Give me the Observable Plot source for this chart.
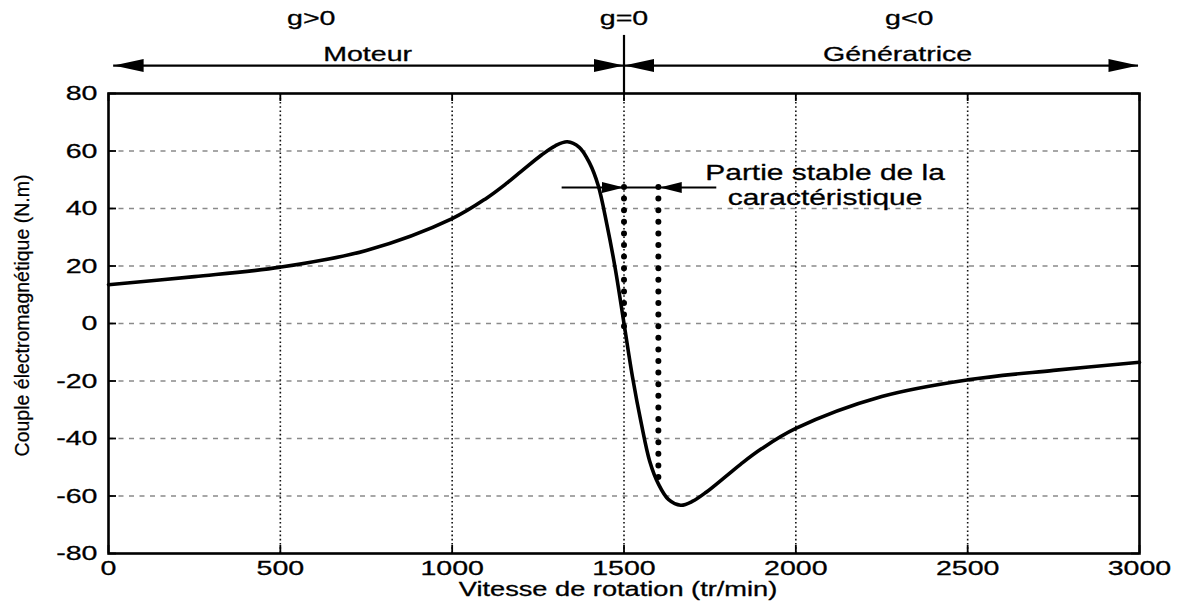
<!DOCTYPE html>
<html>
<head>
<meta charset="utf-8">
<script src="https://cdn.jsdelivr.net/npm/d3@7"></script>
<script src="https://cdn.jsdelivr.net/npm/@observablehq/plot@0.6"></script>
<style>
  html, body { margin: 0; padding: 0; background: #fff; }
  #chart svg { display: block; }
</style>
</head>
<body>
<div id="chart"></div>
<script>
// Torque–speed characteristic
const speed  = [0, 250, 500, 750, 1000, 1100, 1160, 1200, 1260, 1300, 1335, 1370, 1400, 1425, 1450, 1475, 1500,
                1525, 1550, 1575, 1600, 1630, 1665, 1700, 1740, 1800, 1840, 1900, 2000, 2250, 2500, 2750, 3000];
const torque = [13.5, 16.3, 19.6, 25.4, 36.5, 43.6, 48.9, 52.8, 58.6, 61.8, 63.2, 61.3, 55.8, 48, 34.6, 18.8, 0,
                -18.8, -34.6, -48, -55.8, -61.3, -63.2, -61.8, -58.6, -52.8, -48.9, -43.6, -36.5, -25.4, -19.6, -16.3, -13.5];

const xTicks = [0, 500, 1000, 1500, 2000, 2500, 3000];
const yTicks = [80, 60, 40, 20, 0, -20, -40, -60, -80];
const xGrid = [500, 1000, 1500, 2000, 2500];
const yGrid = [60, 40, 20, 0, -20, -40, -60];

const xLabel = "Vitesse de rotation (tr/min)";
const yLabel = "Couple électromagnétique (N.m)";

const regimeLabels = ["g>0", "g=0", "g<0"];
const modeLabels = ["Moteur", "Génératrice"];
const stableLabel = ["Partie stable de la", "caractéristique"];

// annotation anchors (data units)
const regimeX = [590, 1500, 2330];
const modeX = [754, 2296];
const syncSpeed = 1500;
const stableSpeeds = [1500, 1600];
const stableBottoms = [-5, -54];
const stableLevel = 47.3;

const curve = speed.map((s, i) => ({s, t: torque[i]}));

function head(L, H) {
  return {draw(ctx) { ctx.moveTo(0, 0); ctx.lineTo(-L, -H); ctx.lineTo(-L, H); ctx.closePath(); }};
}
const bigHead = head(30, 6.5);
const smallHead = head(22, 5.5);

const xPerPx = 3000 / 1031, yPerPx = 160 / 460;
const tickPx = 8;

const topArrowY = 89.7, sepTop = 100.2, regimeY = 106, modeY = 93.8;
const txt = {fill: "#000", stroke: "#000", strokeWidth: 0.3};

const plot = Plot.plot({
  width: 1184,
  height: 604,
  marginLeft: 108,
  marginRight: 45,
  marginTop: 93,
  marginBottom: 51,
  x: {domain: [0, 3000], axis: null},
  y: {domain: [-80, 80], axis: null},
  style: {fontFamily: "'Liberation Sans', Arial, sans-serif", fontSize: "20px", background: "#fff", color: "#000"},
  marks: [
    Plot.ruleY(yGrid, {stroke: "#8a8a8a", strokeWidth: 1.6, strokeDasharray: "5,5.5"}),
    Plot.ruleX(xGrid, {y1: -80, y2: 80, stroke: "#111", strokeWidth: 1.6, strokeDasharray: "1.6,2.6"}),
    // ticks inside the box
    Plot.ruleY(yTicks, {x1: 0, x2: tickPx * xPerPx, strokeWidth: 1.8}),
    Plot.ruleY(yTicks, {x1: 3000, x2: 3000 - tickPx * xPerPx, strokeWidth: 1.8}),
    Plot.ruleX(xTicks, {y1: -80, y2: -80 + tickPx * yPerPx, strokeWidth: 1.8}),
    Plot.ruleX(xTicks, {y1: 80, y2: 80 - tickPx * yPerPx, strokeWidth: 1.8}),
    Plot.frame({stroke: "#000", strokeWidth: 2.6}),
    // stable-part dotted verticals
    Plot.ruleX(stableSpeeds.map((s, i) => ({s, b: stableBottoms[i]})),
      {x: "s", y1: stableLevel, y2: "b", strokeWidth: 6, strokeDasharray: "0,11.6", strokeLinecap: "round"}),
    Plot.line(curve, {x: "s", y: "t", curve: "catmull-rom", strokeWidth: 3.6, strokeLinejoin: "round"}),
    // stable-part arrow
    Plot.ruleY([stableLevel], {x1: 1320, x2: 1770, strokeWidth: 2}),
    Plot.dot([{x: stableSpeeds[0], r: 0}, {x: stableSpeeds[1] + 4, r: 180}],
      {x: "x", y: () => stableLevel, rotate: "r", symbol: smallHead, fill: "#000", stroke: "none"}),
    // top regime annotation
    Plot.ruleX([syncSpeed], {y1: 80, y2: sepTop, strokeWidth: 2.2}),
    Plot.ruleY([topArrowY], {x1: 15, x2: 2997, strokeWidth: 2.2}),
    Plot.dot([{x: 15, r: 180}, {x: syncSpeed, r: 0}, {x: syncSpeed, r: 180}, {x: 2997, r: 0}],
      {x: "x", y: () => topArrowY, rotate: "r", symbol: bigHead, fill: "#000", stroke: "none"}),
    Plot.text(regimeLabels, {x: (d, i) => regimeX[i], y: () => regimeY, text: d => d, fontSize: 21, ...txt}),
    Plot.text(modeLabels, {x: (d, i) => modeX[i], y: () => modeY, text: d => d, fontSize: 21, ...txt}),
    Plot.text(stableLabel, {x: () => 2085, y: (d, i) => [52.2, 43.8][i], text: d => d, fontSize: 22, ...txt}),
    // tick labels
    Plot.text(yTicks, {x: 0, y: d => d, dx: -11, text: d => String(d), textAnchor: "end", fontSize: 21, ...txt}),
    Plot.text(xTicks, {x: d => d, y: -80, dy: 15, text: d => String(d), fontSize: 21, ...txt}),
    // axis labels
    Plot.text([xLabel], {frameAnchor: "bottom", dx: -6, dy: 42, text: d => d, fontSize: 20, ...txt}),
    Plot.text([yLabel], {frameAnchor: "left", dx: -86, dy: -8, rotate: -90, textAnchor: "middle",
      text: d => d, fontSize: 19.5, fill: "#000", stroke: "#000", strokeWidth: 0.25})
  ]
});

document.getElementById("chart").appendChild(plot);

// the reference picture is stretched horizontally: widen horizontal texts
const STRETCH = 1.36;
plot.querySelectorAll("text").forEach(t => {
  const tr = t.getAttribute("transform") || "";
  if (tr.includes("rotate")) return;
  const len = t.getComputedTextLength();
  if (len > 0) {
    t.setAttribute("textLength", (len * STRETCH).toFixed(1));
    t.setAttribute("lengthAdjust", "spacingAndGlyphs");
  }
});
</script>
</body>
</html>
